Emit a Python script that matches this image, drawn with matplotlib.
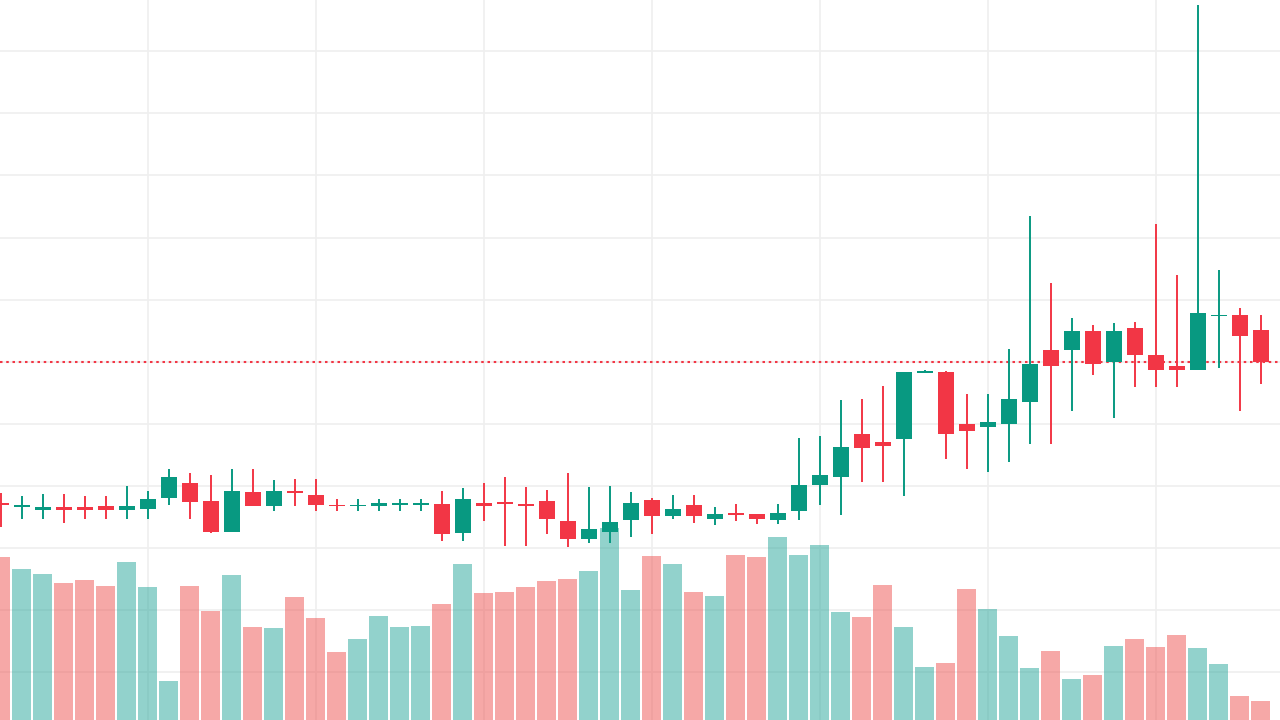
import matplotlib
matplotlib.use("Agg")
import matplotlib.pyplot as plt

# OHLC per candle (price units)
opens = [19.73, 19.66, 19.62, 19.66, 19.66, 19.68, 19.62, 19.63, 19.81, 20.05,
         19.76, 19.26, 19.90, 19.67, 19.92, 19.86, 19.69, 19.67, 19.68, 19.70,
         19.70, 19.71, 19.25, 19.73, 19.74, 19.71, 19.76, 19.44, 19.14, 19.26,
         19.46, 19.77, 19.51, 19.69, 19.47, 19.57, 19.55, 19.46, 19.59, 20.02,
         20.15, 20.84, 20.71, 20.76, 21.82, 21.84, 21.00, 20.95, 21.00, 21.36,
         22.19, 22.19, 22.50, 21.99, 22.54, 22.11, 21.93, 21.87, 22.73, 22.75,
         22.51]
highs = [19.89, 19.84, 19.87, 19.87, 19.84, 19.84, 20.00, 19.92, 20.27, 20.21,
         20.18, 20.27, 20.27, 20.10, 20.11, 20.11, 19.79, 19.79, 19.79, 19.79,
         19.79, 19.92, 19.97, 20.05, 20.14, 19.98, 19.94, 20.21, 19.98, 20.00,
         19.90, 19.81, 19.86, 19.86, 19.66, 19.71, 19.55, 19.71, 20.77, 20.81,
         21.38, 21.40, 21.61, 21.84, 21.87, 21.85, 21.48, 21.48, 22.21, 24.35,
         23.27, 22.71, 22.59, 22.62, 22.64, 24.22, 23.40, 27.75, 23.48, 22.87,
         22.75]
lows = [19.34, 19.47, 19.47, 19.41, 19.47, 19.47, 19.47, 19.47, 19.70, 19.47,
        19.25, 19.26, 19.67, 19.60, 19.67, 19.59, 19.59, 19.59, 19.59, 19.59,
        19.59, 19.12, 19.12, 19.43, 19.04, 19.04, 19.22, 19.01, 19.09, 19.09,
        19.18, 19.22, 19.47, 19.41, 19.38, 19.43, 19.39, 19.39, 19.46, 19.70,
        19.54, 20.07, 20.07, 19.84, 21.82, 20.44, 20.28, 20.23, 20.39, 20.67,
        20.67, 21.21, 21.78, 21.10, 21.60, 21.60, 21.60, 21.86, 21.90, 21.21,
        21.65]
closes = [19.69, 19.69, 19.66, 19.62, 19.62, 19.62, 19.68, 19.79, 20.14, 19.75,
          19.26, 19.92, 19.67, 19.92, 19.89, 19.70, 19.67, 19.70, 19.72, 19.73,
          19.73, 19.22, 19.79, 19.67, 19.71, 19.68, 19.47, 19.14, 19.31, 19.42,
          19.73, 19.51, 19.63, 19.51, 19.55, 19.54, 19.47, 19.57, 20.02, 20.18,
          20.63, 20.62, 20.65, 21.84, 21.85, 20.84, 20.89, 21.03, 21.40, 21.96,
          21.94, 22.50, 21.97, 22.50, 22.11, 21.86, 21.87, 22.79, 22.75, 22.42,
          21.99]
volumes = [1630, 1510, 1460, 1370, 1400, 1340, 1580, 1330, 390, 1340,
           1090, 1450, 930, 920, 1230, 1020, 680, 810, 1040, 930,
           940, 1160, 1560, 1270, 1280, 1330, 1390, 1410, 1490, 1920,
           1300, 1640, 1560, 1280, 1240, 1650, 1630, 1830, 1650, 1750,
           1080, 1030, 1350, 930, 530, 570, 1310, 1110, 840, 520,
           690, 410, 450, 740, 810, 730, 850, 720, 560, 240,
           190]

UP = "#089981"
DOWN = "#F23645"
UP_VOL = "#26a69a"
DOWN_VOL = "#ef5350"
GRID = "#efefef"


def main():
    n = len(closes)
    xs = list(range(n))
    up = [c >= o for o, c in zip(opens, closes)]

    fig = plt.figure(figsize=(12.8, 7.2), dpi=100)
    ax = fig.add_axes([0, 0, 1, 1])           # price
    vax = ax.twinx()                          # volume overlay, drawn underneath
    ax.set_zorder(2)
    vax.set_zorder(1)
    ax.patch.set_visible(False)
    vax.patch.set_facecolor("white")

    ax.set_xlim(-0.7 / 21, 1279.3 / 21)
    ax.set_ylim(16.232, 27.826)
    vax.set_ylim(0, 7200)

    # grid lives in the volume axes so the bars sit on top of it
    for gx in range(7, n, 8):
        vax.axvline(gx, color=GRID, lw=1.2, zorder=0)
    vax.hlines(range(17, 28), 0, 1, transform=ax.get_yaxis_transform(),
               color=GRID, lw=1.2, zorder=0)

    # volume
    vcols = [UP_VOL if u else DOWN_VOL for u in up]
    vax.bar(xs, volumes, width=0.9, color=vcols, alpha=0.5, zorder=1)

    # candles
    ccols = [UP if u else DOWN for u in up]
    ax.vlines(xs, lows, highs, color=ccols, lw=1.4, zorder=3)
    bottoms = [min(o, c) for o, c in zip(opens, closes)]
    heights = [max(abs(c - o), 0.03) for o, c in zip(opens, closes)]
    ax.bar(xs, heights, bottom=bottoms, width=0.76, color=ccols, zorder=4)

    # last price line
    ax.axhline(closes[-1], color=DOWN, lw=1.5, linestyle=(0, (1.2, 1.8)), zorder=2)

    for a in (ax, vax):
        a.set_xticks([])
        a.set_yticks([])
        for s in a.spines.values():
            s.set_visible(False)

    fig.savefig("out.png", dpi=100)
    plt.close(fig)


if __name__ == "__main__":
    main()
